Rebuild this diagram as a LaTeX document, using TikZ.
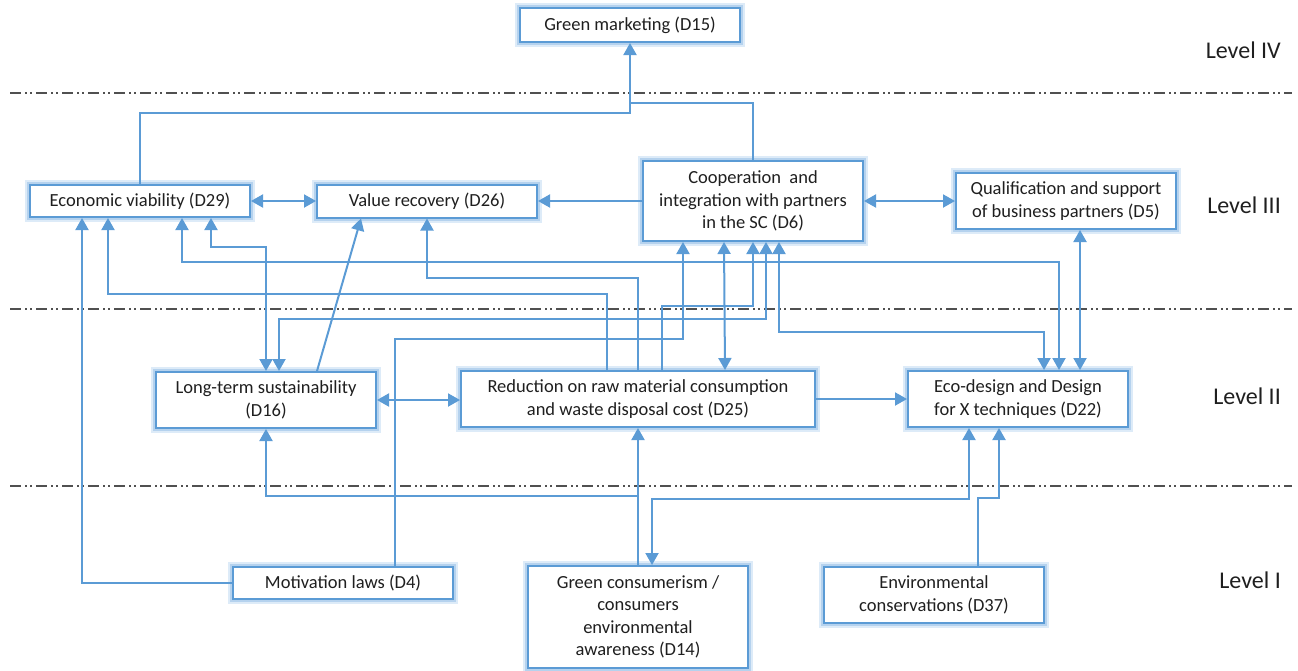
\documentclass[tikz,border=0pt]{standalone}
\usepackage{fontspec}
\setmainfont{Carlito}
\usetikzlibrary{arrows.meta}

\definecolor{linkblue}{HTML}{5B9BD5}
\definecolor{haloA}{HTML}{DDEBF8}
\definecolor{haloB}{HTML}{B5D2EE}
\definecolor{inkgray}{HTML}{1F1F1F}
\definecolor{levelgray}{HTML}{505050}

\tikzset{
  factor/.style={draw=linkblue, line width=2pt, fill=white, inner sep=0pt,
    align=center, text=inkgray, font=\fontsize{18.5}{22.5}\selectfont,
    preaction={draw=haloA, line width=10pt},
    preaction={draw=haloB, line width=6pt}},
  link/.style={draw=linkblue, line width=2pt},
  tip/.style={link, -{Triangle[length=12pt,width=13pt]}},
  both/.style={link, {Triangle[length=12pt,width=13pt]}-{Triangle[length=12pt,width=13pt]}},
  levelrule/.style={draw=levelgray, line width=1.6pt,
    dash pattern=on 11pt off 4pt on 2pt off 3pt on 2pt off 4pt},
  levellabel/.style={anchor=east, text=inkgray, inner sep=0pt,
    font=\fontsize{24}{28}\selectfont}
}

\begin{document}
\begin{tikzpicture}[x=1pt, y=-1pt]
\useasboundingbox (0,0) rectangle (1298,670);

% level separators and labels
\draw[levelrule] (10,93) -- (1292,93);
\draw[levelrule] (10,309) -- (1292,309);
\draw[levelrule] (10,486) -- (1292,486);
\node[levellabel] (lv4) at (1281,50) {Level IV};
\node[levellabel] (lv3) at (1281,205) {Level III};
\node[levellabel] (lv2) at (1281,396) {Level II};
\node[levellabel] (lv1) at (1281,580) {Level I};

% factors
\node[factor, minimum width=220pt, minimum height=34pt] (d15) at (630,25) {Green marketing (D15)};
\node[factor, minimum width=220pt, minimum height=32pt] (d29) at (140,201) {Economic viability (D29)};
\node[factor, minimum width=220pt, minimum height=33pt] (d26) at (427,201) {Value recovery (D26)};
\node[factor, minimum width=220pt, minimum height=80pt] (d6) at (753,201) {Cooperation\ \ and\\integration with partners\\in the SC (D6)};
\node[factor, minimum width=220pt, minimum height=56pt] (d5) at (1066,201) {Qualification and support\\of business partners (D5)};
\node[factor, minimum width=220pt, minimum height=56pt] (d16) at (266,400) {Long-term sustainability\\(D16)};
\node[factor, minimum width=354pt, minimum height=56pt] (d25) at (638,399) {Reduction on raw material consumption\\and waste disposal cost (D25)};
\node[factor, minimum width=220pt, minimum height=56pt] (d22) at (1018,399) {Eco-design and Design\\for X techniques (D22)};
\node[factor, minimum width=220pt, minimum height=32pt] (d4) at (343,583) {Motivation laws (D4)};
\node[factor, minimum width=220pt, minimum height=102pt] (d14) at (638,617) {Green consumerism /\\consumers\\environmental\\awareness (D14)};
\node[factor, minimum width=220pt, minimum height=56pt] (d37) at (934,595) {Environmental\\conservations (D37)};

% links into Green marketing
\draw[tip] (d29.north) |- (630,113) -- (d15.south);
\draw[link] (d6.north) |- (630,103);

% level III horizontal links
\draw[both] (d29.east) -- (d26.west);
\draw[tip] (d6.west) -- (d26.east);
\draw[both] (d6.east) -- (d6.east -| d5.west);
\draw[both] ([xshift=14pt]d5.south) -- ([xshift=14pt]d5.south |- d22.north);

% links into Economic viability
\draw[tip] (d4.west) -| ([xshift=-58pt]d29.south);
\draw[tip] ([xshift=-31pt]d25.north) |- (108,294) -- ([xshift=-32pt]d29.south);
\draw[both] ([xshift=42pt]d29.south) |- (1059,262) -- ([xshift=41pt]d22.north);
\draw[both] ([xshift=71pt]d29.south) |- (266,247) -- (d16.north);

% links into Value recovery
\draw[tip] (d25.north) |- (427,278) -- (d26.south);
\draw[tip] ([xshift=51pt]d16.north) -- ([xshift=-66pt]d26.south);

% links around Cooperation and integration
\draw[tip] ([xshift=52pt]d4.north) |- (683,339) -- ([xshift=-70pt]d6.south);
\draw[both] ([xshift=-29pt]d6.south) -- ([xshift=87pt]d25.north);
\draw[tip] ([xshift=24pt]d25.north) |- (753,306) -- (d6.south);
\draw[both] ([xshift=13pt]d6.south) |- (279,319) -- ([xshift=13pt]d16.north);
\draw[both] ([xshift=26pt]d6.south) |- (1044,332) -- ([xshift=26pt]d22.north);

% level II links
\draw[both] (d16.east) -- (d16.east -| d25.west);
\draw[tip] (d25.east) -- (d25.east -| d22.west);

% links from level I
\draw[tip] (d14.north) -- (d25.south);
\draw[tip] ([yshift=69pt]d14.north) -| (d16.south);
\draw[both] ([xshift=14pt]d14.north) |- (969,499) -- ([xshift=-49pt]d22.south);
\draw[tip] ([xshift=44pt]d37.north) |- (999,498) -- ([xshift=-19pt]d22.south);
\end{tikzpicture}
\end{document}
